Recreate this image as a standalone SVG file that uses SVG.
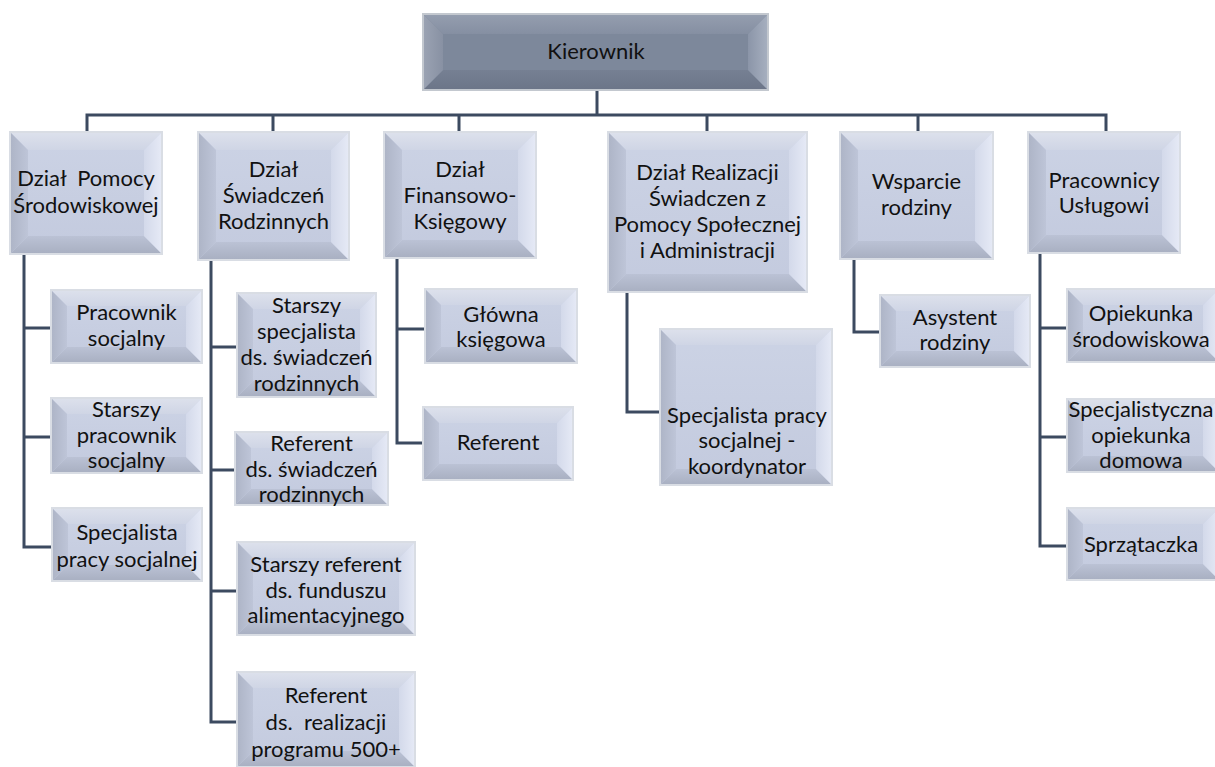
<svg xmlns="http://www.w3.org/2000/svg" width="1215" height="767" viewBox="0 0 1215 767">
<defs>
<linearGradient id="gl" x1="0" y1="0" x2="1" y2="0"><stop offset="0" stop-color="#adb4c6"/><stop offset="1" stop-color="#bec5d8"/></linearGradient>
<linearGradient id="gr" x1="1" y1="0" x2="0" y2="0"><stop offset="0" stop-color="#e6eaf6"/><stop offset="1" stop-color="#d3d9ea"/></linearGradient>
<linearGradient id="gt" x1="0" y1="0" x2="0" y2="1"><stop offset="0" stop-color="#dde1ec"/><stop offset="1" stop-color="#cfd5e5"/></linearGradient>
<linearGradient id="gb" x1="0" y1="1" x2="0" y2="0"><stop offset="0" stop-color="#a8afc1"/><stop offset="1" stop-color="#bbc2d5"/></linearGradient>
<linearGradient id="gc" x1="0" y1="0" x2="0" y2="1"><stop offset="0" stop-color="#ccd3e5"/><stop offset="1" stop-color="#c3cade"/></linearGradient>
<linearGradient id="kl" x1="0" y1="0" x2="1" y2="0"><stop offset="0" stop-color="#9ba3b3"/><stop offset="1" stop-color="#8891a3"/></linearGradient>
<linearGradient id="kr" x1="1" y1="0" x2="0" y2="0"><stop offset="0" stop-color="#a7b0c0"/><stop offset="1" stop-color="#8b95a8"/></linearGradient>
<linearGradient id="kt" x1="0" y1="0" x2="0" y2="1"><stop offset="0" stop-color="#959eaf"/><stop offset="1" stop-color="#858fa2"/></linearGradient>
<linearGradient id="kb" x1="0" y1="1" x2="0" y2="0"><stop offset="0" stop-color="#6c7588"/><stop offset="1" stop-color="#768093"/></linearGradient>
</defs>
<style>
.c{fill:url(#gc)}
.l{fill:url(#gl)}
.r{fill:url(#gr)}
.t{fill:url(#gt)}
.b{fill:url(#gb)}
.e{fill:none;stroke:#d9dde4;stroke-width:2}
.kc{fill:#7d889b}
.kl{fill:url(#kl)}
.kr{fill:url(#kr)}
.kt{fill:url(#kt)}
.kb{fill:url(#kb)}
.ke{fill:none;stroke:#c3c8cf;stroke-width:2}
text{font-family:Lato,"Liberation Sans",sans-serif;font-size:22px;fill:#111;text-anchor:middle}
.cn{fill:none;stroke:#3c4a60;stroke-width:3}
</style>

<g id="connectors" class="cn">
<path d="M597 90 V115"/>
<path d="M87 132 V115 H1106 V132"/>
<path d="M273 115 V132 M459 115 V132 M707 115 V132 M918 115 V132"/>
<path d="M24 254 V547 H52 M24 328 H51 M24 437 H51"/>
<path d="M211 260 V722 H237 M211 347 H237 M211 470 H235 M211 591 H237"/>
<path d="M397 258 V443 H423 M397 329 H425"/>
<path d="M627 293 V412 H660"/>
<path d="M854 259 V332 H880"/>
<path d="M1040 253 V546 H1067 M1040 328 H1067 M1040 437 H1067"/>
</g>

<g id="n-kierownik">
<rect class="kc" x="423" y="14" width="345" height="76"/>
<path class="kt" d="M423 14 h345 l-20 20 h-305 z"/>
<path class="kb" d="M423 90 h345 l-20 -20 h-305 z"/>
<path class="kl" d="M423 14 l20 20 v36 l-20 20 z"/>
<path class="kr" d="M768 14 v76 l-20 -20 v-36 z"/>
<rect class="ke" x="423" y="14" width="345" height="76"/>
<text x="596" y="59">Kierownik</text>
</g>

<g id="n-pomocy">
<rect class="c" x="10" y="132" width="152" height="122"/>
<path class="t" d="M10 132 h152 l-18 18 h-116 z"/>
<path class="b" d="M10 254 h152 l-18 -18 h-116 z"/>
<path class="l" d="M10 132 l18 18 v86 l-18 18 z"/>
<path class="r" d="M162 132 v122 l-18 -18 v-86 z"/>
<rect class="e" x="10" y="132" width="152" height="122"/>
<text x="86" y="186" xml:space="preserve">Dział  Pomocy</text>
<text x="86" y="213">Środowiskowej</text>
</g>

<g id="n-swiadczen">
<rect class="c" x="198" y="132" width="151" height="128"/>
<path class="t" d="M198 132 h151 l-18 18 h-115 z"/>
<path class="b" d="M198 260 h151 l-18 -18 h-115 z"/>
<path class="l" d="M198 132 l18 18 v92 l-18 18 z"/>
<path class="r" d="M349 132 v128 l-18 -18 v-92 z"/>
<rect class="e" x="198" y="132" width="151" height="128"/>
<text x="273.5" y="177">Dział</text>
<text x="273.5" y="203">Świadczeń</text>
<text x="273.5" y="229">Rodzinnych</text>
</g>

<g id="n-finansowy">
<rect class="c" x="384" y="132" width="152" height="126"/>
<path class="t" d="M384 132 h152 l-18 18 h-116 z"/>
<path class="b" d="M384 258 h152 l-18 -18 h-116 z"/>
<path class="l" d="M384 132 l18 18 v90 l-18 18 z"/>
<path class="r" d="M536 132 v126 l-18 -18 v-90 z"/>
<rect class="e" x="384" y="132" width="152" height="126"/>
<text x="460" y="177">Dział</text>
<text x="460" y="203">Finansowo-</text>
<text x="460" y="229">Księgowy</text>
</g>

<g id="n-realizacji">
<rect class="c" x="608" y="132" width="199" height="160"/>
<path class="t" d="M608 132 h199 l-18 18 h-163 z"/>
<path class="b" d="M608 292 h199 l-18 -18 h-163 z"/>
<path class="l" d="M608 132 l18 18 v124 l-18 18 z"/>
<path class="r" d="M807 132 v160 l-18 -18 v-124 z"/>
<rect class="e" x="608" y="132" width="199" height="160"/>
<text x="707.5" y="180">Dział Realizacji</text>
<text x="707.5" y="206">Świadczen z</text>
<text x="707.5" y="232">Pomocy Społecznej</text>
<text x="707.5" y="258">i Administracji</text>
</g>

<g id="n-wsparcie">
<rect class="c" x="840" y="132" width="153" height="127"/>
<path class="t" d="M840 132 h153 l-18 18 h-117 z"/>
<path class="b" d="M840 259 h153 l-18 -18 h-117 z"/>
<path class="l" d="M840 132 l18 18 v91 l-18 18 z"/>
<path class="r" d="M993 132 v127 l-18 -18 v-91 z"/>
<rect class="e" x="840" y="132" width="153" height="127"/>
<text x="916.5" y="189">Wsparcie</text>
<text x="916.5" y="215">rodziny</text>
</g>

<g id="n-uslugowi">
<rect class="c" x="1028" y="132" width="152" height="121"/>
<path class="t" d="M1028 132 h152 l-18 18 h-116 z"/>
<path class="b" d="M1028 253 h152 l-18 -18 h-116 z"/>
<path class="l" d="M1028 132 l18 18 v85 l-18 18 z"/>
<path class="r" d="M1180 132 v121 l-18 -18 v-85 z"/>
<rect class="e" x="1028" y="132" width="152" height="121"/>
<text x="1104" y="188">Pracownicy</text>
<text x="1104" y="213">Usługowi</text>
</g>

<g id="n-pracownik-socjalny">
<rect class="c" x="51" y="290" width="151" height="73"/>
<path class="t" d="M51 290 h151 l-16 16 h-119 z"/>
<path class="b" d="M51 363 h151 l-16 -16 h-119 z"/>
<path class="l" d="M51 290 l16 16 v41 l-16 16 z"/>
<path class="r" d="M202 290 v73 l-16 -16 v-41 z"/>
<rect class="e" x="51" y="290" width="151" height="73"/>
<text x="126.5" y="320">Pracownik</text>
<text x="126.5" y="346">socjalny</text>
</g>

<g id="n-starszy-pracownik">
<rect class="c" x="51" y="398" width="151" height="75"/>
<path class="t" d="M51 398 h151 l-16 16 h-119 z"/>
<path class="b" d="M51 473 h151 l-16 -16 h-119 z"/>
<path class="l" d="M51 398 l16 16 v43 l-16 16 z"/>
<path class="r" d="M202 398 v75 l-16 -16 v-43 z"/>
<rect class="e" x="51" y="398" width="151" height="75"/>
<text x="126.5" y="417">Starszy</text>
<text x="126.5" y="443">pracownik</text>
<text x="126.5" y="468">socjalny</text>
</g>

<g id="n-specjalista-pracy">
<rect class="c" x="52" y="508" width="150" height="73"/>
<path class="t" d="M52 508 h150 l-16 16 h-118 z"/>
<path class="b" d="M52 581 h150 l-16 -16 h-118 z"/>
<path class="l" d="M52 508 l16 16 v41 l-16 16 z"/>
<path class="r" d="M202 508 v73 l-16 -16 v-41 z"/>
<rect class="e" x="52" y="508" width="150" height="73"/>
<text x="127" y="540">Specjalista</text>
<text x="127" y="567">pracy socjalnej</text>
</g>

<g id="n-starszy-specjalista">
<rect class="c" x="237" y="293" width="139" height="104"/>
<path class="t" d="M237 293 h139 l-16 16 h-107 z"/>
<path class="b" d="M237 397 h139 l-16 -16 h-107 z"/>
<path class="l" d="M237 293 l16 16 v72 l-16 16 z"/>
<path class="r" d="M376 293 v104 l-16 -16 v-72 z"/>
<rect class="e" x="237" y="293" width="139" height="104"/>
<text x="306.5" y="313">Starszy</text>
<text x="306.5" y="339">specjalista</text>
<text x="306.5" y="365">ds. świadczeń</text>
<text x="306.5" y="391">rodzinnych</text>
</g>

<g id="n-referent-swiadczen">
<rect class="c" x="235" y="432" width="153" height="73"/>
<path class="t" d="M235 432 h153 l-16 16 h-121 z"/>
<path class="b" d="M235 505 h153 l-16 -16 h-121 z"/>
<path class="l" d="M235 432 l16 16 v41 l-16 16 z"/>
<path class="r" d="M388 432 v73 l-16 -16 v-41 z"/>
<rect class="e" x="235" y="432" width="153" height="73"/>
<text x="311.5" y="451">Referent</text>
<text x="311.5" y="477">ds. świadczeń</text>
<text x="311.5" y="502">rodzinnych</text>
</g>

<g id="n-starszy-referent">
<rect class="c" x="237" y="542" width="178" height="93"/>
<path class="t" d="M237 542 h178 l-16 16 h-146 z"/>
<path class="b" d="M237 635 h178 l-16 -16 h-146 z"/>
<path class="l" d="M237 542 l16 16 v61 l-16 16 z"/>
<path class="r" d="M415 542 v93 l-16 -16 v-61 z"/>
<rect class="e" x="237" y="542" width="178" height="93"/>
<text x="326" y="572">Starszy referent</text>
<text x="326" y="598">ds. funduszu</text>
<text x="326" y="623">alimentacyjnego</text>
</g>

<g id="n-referent-500">
<rect class="c" x="237" y="672" width="178" height="95"/>
<path class="t" d="M237 672 h178 l-16 16 h-146 z"/>
<path class="b" d="M237 767 h178 l-16 -16 h-146 z"/>
<path class="l" d="M237 672 l16 16 v63 l-16 16 z"/>
<path class="r" d="M415 672 v95 l-16 -16 v-63 z"/>
<rect class="e" x="237" y="672" width="178" height="95"/>
<text x="326" y="703">Referent</text>
<text x="326" y="730" xml:space="preserve">ds.  realizacji</text>
<text x="326" y="757">programu 500+</text>
</g>

<g id="n-glowna-ksiegowa">
<rect class="c" x="425" y="289" width="152" height="74"/>
<path class="t" d="M425 289 h152 l-16 16 h-120 z"/>
<path class="b" d="M425 363 h152 l-16 -16 h-120 z"/>
<path class="l" d="M425 289 l16 16 v42 l-16 16 z"/>
<path class="r" d="M577 289 v74 l-16 -16 v-42 z"/>
<rect class="e" x="425" y="289" width="152" height="74"/>
<text x="501" y="322">Główna</text>
<text x="501" y="347">księgowa</text>
</g>

<g id="n-referent">
<rect class="c" x="423" y="407" width="150" height="73"/>
<path class="t" d="M423 407 h150 l-16 16 h-118 z"/>
<path class="b" d="M423 480 h150 l-16 -16 h-118 z"/>
<path class="l" d="M423 407 l16 16 v41 l-16 16 z"/>
<path class="r" d="M573 407 v73 l-16 -16 v-41 z"/>
<rect class="e" x="423" y="407" width="150" height="73"/>
<text x="498" y="450">Referent</text>
</g>

<g id="n-koordynator">
<rect class="c" x="660" y="329" width="172" height="156"/>
<path class="t" d="M660 329 h172 l-16 16 h-140 z"/>
<path class="b" d="M660 485 h172 l-16 -16 h-140 z"/>
<path class="l" d="M660 329 l16 16 v124 l-16 16 z"/>
<path class="r" d="M832 329 v156 l-16 -16 v-124 z"/>
<rect class="e" x="660" y="329" width="172" height="156"/>
<text x="747" y="423">Specjalista pracy</text>
<text x="747" y="448">socjalnej -</text>
<text x="747" y="474">koordynator</text>
</g>

<g id="n-asystent">
<rect class="c" x="880" y="295" width="150" height="72"/>
<path class="t" d="M880 295 h150 l-16 16 h-118 z"/>
<path class="b" d="M880 367 h150 l-16 -16 h-118 z"/>
<path class="l" d="M880 295 l16 16 v40 l-16 16 z"/>
<path class="r" d="M1030 295 v72 l-16 -16 v-40 z"/>
<rect class="e" x="880" y="295" width="150" height="72"/>
<text x="955" y="325">Asystent</text>
<text x="955" y="350">rodziny</text>
</g>

<g id="n-opiekunka">
<rect class="c" x="1067" y="289" width="152" height="73"/>
<path class="t" d="M1067 289 h152 l-16 16 h-120 z"/>
<path class="b" d="M1067 362 h152 l-16 -16 h-120 z"/>
<path class="l" d="M1067 289 l16 16 v41 l-16 16 z"/>
<path class="r" d="M1219 289 v73 l-16 -16 v-41 z"/>
<rect class="e" x="1067" y="289" width="152" height="73"/>
<text x="1141" y="321">Opiekunka</text>
<text x="1141" y="347">środowiskowa</text>
</g>

<g id="n-specjalistyczna">
<rect class="c" x="1067" y="399" width="152" height="73"/>
<path class="t" d="M1067 399 h152 l-16 16 h-120 z"/>
<path class="b" d="M1067 472 h152 l-16 -16 h-120 z"/>
<path class="l" d="M1067 399 l16 16 v41 l-16 16 z"/>
<path class="r" d="M1219 399 v73 l-16 -16 v-41 z"/>
<rect class="e" x="1067" y="399" width="152" height="73"/>
<text x="1141" y="417">Specjalistyczna</text>
<text x="1141" y="443">opiekunka</text>
<text x="1141" y="468">domowa</text>
</g>

<g id="n-sprzataczka">
<rect class="c" x="1067" y="508" width="152" height="72"/>
<path class="t" d="M1067 508 h152 l-16 16 h-120 z"/>
<path class="b" d="M1067 580 h152 l-16 -16 h-120 z"/>
<path class="l" d="M1067 508 l16 16 v40 l-16 16 z"/>
<path class="r" d="M1219 508 v72 l-16 -16 v-40 z"/>
<rect class="e" x="1067" y="508" width="152" height="72"/>
<text x="1141" y="552">Sprzątaczka</text>
</g>
</svg>
